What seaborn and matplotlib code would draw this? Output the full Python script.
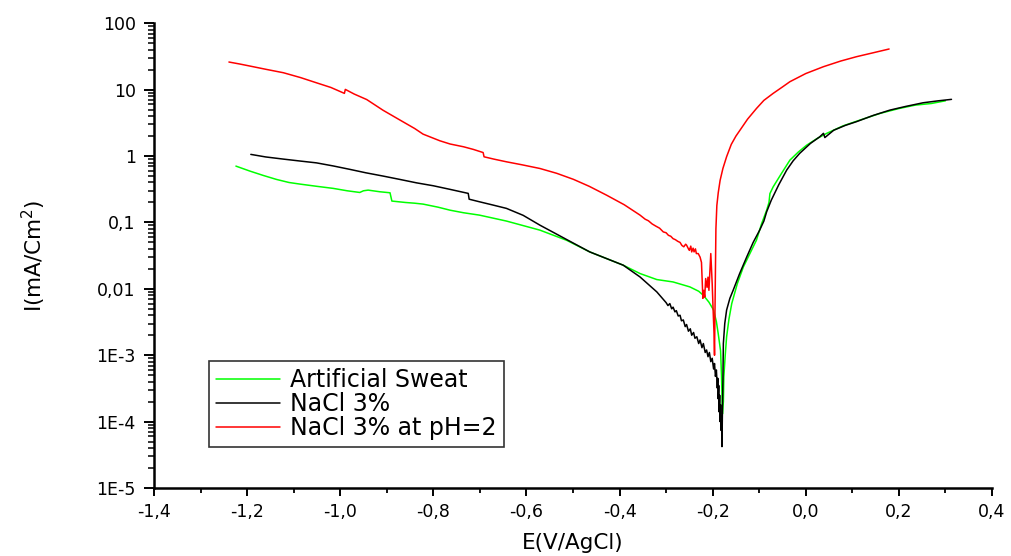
import numpy as np
import pandas as pd
import matplotlib
matplotlib.use("Agg")
import matplotlib.pyplot as plt
import seaborn as sns
from matplotlib.ticker import FixedLocator, FixedFormatter, LogLocator, NullFormatter, MultipleLocator

# ---------------- data ----------------
sweat_E = [-1.224, -1.194, -1.165, -1.137, -1.110, -1.086, -1.050, -1.015, -0.985, -0.958,
           -0.950, -0.940, -0.915, -0.893, -0.889, -0.860, -0.840, -0.822, -0.790, -0.764,
           -0.735, -0.701, -0.643, -0.571, -0.514, -0.464, -0.392, -0.356, -0.320, -0.285,
           -0.249, -0.230, -0.220, -0.208, -0.198, -0.192, -0.188, -0.183, -0.181, -0.179,
           -0.177, -0.176, -0.173, -0.170, -0.165, -0.159, -0.147, -0.134, -0.120, -0.106,
           -0.095, -0.084, -0.079, -0.077, -0.070, -0.052, -0.034, -0.016, 0.002, 0.025,
           0.045, 0.080, 0.120, 0.160, 0.200, 0.235, 0.270, 0.300]
sweat_I = [0.706, 0.594, 0.51, 0.445, 0.40, 0.378, 0.35, 0.326, 0.30, 0.283,
           0.30, 0.307, 0.29, 0.28, 0.21, 0.20, 0.195, 0.189, 0.17, 0.153,
           0.14, 0.129, 0.105, 0.0766, 0.054, 0.036, 0.0227, 0.017, 0.0138, 0.0127,
           0.0107, 0.0092, 0.008, 0.0063, 0.0048, 0.0032, 0.0021, 0.00117, 0.0005, 0.00013,
           0.0002, 0.00047, 0.001, 0.0019, 0.0035, 0.006, 0.012, 0.0214, 0.034, 0.054,
           0.095, 0.153, 0.20, 0.272, 0.344, 0.55, 0.87, 1.15, 1.46, 1.85,
           2.2, 2.85, 3.55, 4.4, 5.2, 5.85, 6.2, 6.8]

nacl_E = [-1.192, -1.160, -1.122, -1.085, -1.051, -1.015, -0.979, -0.945, -0.908, -0.872,
          -0.836, -0.800, -0.764, -0.725, -0.723, -0.701, -0.672, -0.643, -0.607, -0.571,
          -0.514, -0.464, -0.392, -0.356, -0.320,
          -0.300, -0.296, -0.292, -0.288, -0.285, -0.281, -0.278, -0.274, -0.270, -0.267,
          -0.263, -0.259, -0.256, -0.252, -0.248, -0.245, -0.241, -0.238, -0.234, -0.230,
          -0.227, -0.223, -0.220, -0.216, -0.213, -0.210, -0.207, -0.204, -0.201, -0.198,
          -0.196, -0.194, -0.192, -0.190, -0.189, -0.188, -0.187, -0.186, -0.185, -0.184,
          -0.183, -0.182, -0.181, -0.180,
          -0.179, -0.178, -0.177, -0.174, -0.170, -0.163, -0.156, -0.142, -0.127,
          -0.113, -0.099, -0.090, -0.084, -0.074, -0.058, -0.041, -0.027, -0.013, 0.010,
          0.030, 0.038, 0.041, 0.060, 0.085, 0.109, 0.145, 0.181, 0.215, 0.252,
          0.285, 0.313]
nacl_I = [1.06, 0.97, 0.90, 0.84, 0.79, 0.71, 0.63, 0.56, 0.50, 0.445,
          0.395, 0.357, 0.315, 0.274, 0.224, 0.205, 0.183, 0.163, 0.128, 0.091,
          0.0555, 0.036, 0.0227, 0.0151, 0.009,
          0.0062, 0.0056, 0.0060, 0.0050, 0.0053, 0.0045, 0.0047, 0.0039, 0.0040, 0.0033,
          0.0034, 0.0027, 0.0029, 0.0023, 0.0025, 0.0020, 0.0022, 0.0018, 0.0019, 0.0015,
          0.0017, 0.0013, 0.0015, 0.0011, 0.0012, 0.00095, 0.0011, 0.0008, 0.0009, 0.00062,
          0.00075, 0.00048, 0.0006, 0.00032, 0.00045, 0.00022, 0.00035, 0.00014, 0.00025, 0.0001,
          0.00018, 0.000074, 0.00012, 0.000042,
          0.00015, 0.0004, 0.0015, 0.003, 0.0048, 0.0072, 0.0095, 0.017, 0.030,
          0.050, 0.0766, 0.105, 0.145, 0.217, 0.37, 0.615, 0.85, 1.1, 1.55,
          1.95, 2.2, 1.9, 2.45, 2.9, 3.3, 4.1, 4.93, 5.6, 6.35,
          6.8, 7.15]

acid_E = [-1.239, -1.215, -1.194, -1.160, -1.122, -1.085, -1.051, -1.020, -0.991, -0.989,
          -0.970, -0.943, -0.908, -0.872, -0.840, -0.822, -0.786, -0.764, -0.735, -0.714,
          -0.693, -0.691, -0.670, -0.643, -0.610, -0.571, -0.535, -0.499, -0.465, -0.428,
          -0.390, -0.356, -0.345, -0.338, -0.330, -0.322, -0.314, -0.306, -0.300, -0.295,
          -0.290, -0.285, -0.280, -0.275, -0.270, -0.266, -0.262, -0.258, -0.256, -0.252,
          -0.250, -0.247, -0.245, -0.242, -0.240, -0.237, -0.235, -0.231,
          -0.227, -0.224, -0.221, -0.219, -0.217, -0.215,
          -0.212, -0.210, -0.208, -0.204, -0.201, -0.199, -0.197, -0.196, -0.195, -0.194,
          -0.193, -0.191, -0.188, -0.184, -0.178, -0.170, -0.160, -0.150, -0.141, -0.125,
          -0.106, -0.090, -0.070, -0.050, -0.034, 0.000, 0.038, 0.075, 0.109, 0.145,
          0.179]
acid_I = [26.1, 24.3, 22.7, 20.3, 18.0, 15.2, 12.7, 10.8, 8.8, 10.1,
          8.6, 7.1, 4.9, 3.5, 2.6, 2.14, 1.7, 1.52, 1.38, 1.26,
          1.13, 0.975, 0.90, 0.82, 0.74, 0.65, 0.55, 0.446, 0.35, 0.258,
          0.185, 0.129, 0.112, 0.106, 0.095, 0.088, 0.082, 0.072, 0.070, 0.064,
          0.062, 0.057, 0.055, 0.052, 0.050, 0.045, 0.043, 0.047, 0.0455, 0.040,
          0.038, 0.044, 0.036, 0.041, 0.036, 0.040, 0.034, 0.034,
          0.030, 0.025, 0.0072, 0.0095, 0.0075, 0.0143,
          0.0105, 0.0150, 0.0095, 0.034, 0.012, 0.0048, 0.0021, 0.0010, 0.0045, 0.020,
          0.080, 0.18, 0.28, 0.43, 0.65, 0.98, 1.5, 2.0, 2.47, 3.6,
          5.2, 6.9, 8.8, 11.0, 13.2, 17.5, 22.2, 27.0, 31.4, 36.0,
          41.0]

series_labels = ["Artificial Sweat", "NaCl 3%", "NaCl 3% at pH=2"]
series_colors = ["#00FF00", "#000000", "#FF0000"]

y_tick_values = [1e-5, 1e-4, 1e-3, 1e-2, 1e-1, 1, 10, 100]
y_tick_labels = ["1E-5", "1E-4", "1E-3", "0,01", "0,1", "1", "10", "100"]
x_tick_values = [-1.4, -1.2, -1.0, -0.8, -0.6, -0.4, -0.2, 0.0, 0.2, 0.4]
x_tick_labels = ["-1,4", "-1,2", "-1,0", "-0,8", "-0,6", "-0,4", "-0,2", "0,0", "0,2", "0,4"]

# ---------------- plotting ----------------
sns.set_style("ticks")
plt.rcParams["font.family"] = ["DejaVu Sans"]
plt.rcParams["mathtext.fontset"] = "dejavusans"
plt.rcParams["text.color"] = "black"
plt.rcParams["axes.labelcolor"] = "black"

fig = plt.figure(figsize=(10.11, 5.56), dpi=100)
ax = fig.add_axes([0.1523, 0.1223, 0.8289, 0.8358])

datasets = [(sweat_E, sweat_I), (nacl_E, nacl_I), (acid_E, acid_I)]
for (E, I), lab, col in zip(datasets, series_labels, series_colors):
    df = pd.DataFrame({"E": E, "I": I})
    sns.lineplot(data=df, x="E", y="I", ax=ax, color=col, linewidth=1.1,
                 estimator=None, sort=False, label=lab)

ax.set_yscale("log")
ax.set_xlim(-1.4, 0.4)
ax.set_ylim(1e-5, 100)

ax.yaxis.set_major_locator(FixedLocator(y_tick_values))
ax.yaxis.set_major_formatter(FixedFormatter(y_tick_labels))
ax.yaxis.set_minor_locator(LogLocator(base=10, subs=np.arange(2, 10), numticks=20))
ax.yaxis.set_minor_formatter(NullFormatter())
ax.xaxis.set_major_locator(FixedLocator(x_tick_values))
ax.xaxis.set_major_formatter(FixedFormatter(x_tick_labels))
ax.xaxis.set_minor_locator(MultipleLocator(0.1))

for s in ["top", "right"]:
    ax.spines[s].set_visible(False)
for s in ["left", "bottom"]:
    ax.spines[s].set_linewidth(1.8)
    ax.spines[s].set_color("black")

ax.tick_params(axis="y", which="major", direction="out", length=7.2, width=1.4,
               labelsize=12.5, colors="black", pad=6)
ax.tick_params(axis="y", which="minor", direction="out", length=4.3, width=1.1, colors="black")
ax.tick_params(axis="x", which="major", direction="out", length=5.5, width=1.4,
               labelsize=12.5, colors="black", pad=5)
ax.tick_params(axis="x", which="minor", direction="out", length=3.5, width=1.3, colors="black")

ax.set_xlabel("E(V/AgCl)", fontsize=15.5, color="black")
ax.set_ylabel("I(mA/Cm$^2$)", fontsize=15.5, color="black")
ax.xaxis.set_label_coords(0.5, -0.097)
ax.yaxis.set_label_coords(-0.126, 0.5)

leg = ax.legend(loc="upper left", bbox_to_anchor=(0.066, 0.273), borderaxespad=0,
                fontsize=17, frameon=True, fancybox=False, edgecolor="black",
                handlelength=2.7, handletextpad=0.42, labelspacing=0.0, borderpad=0.3)
leg.get_frame().set_linewidth(1.2)
for t in leg.get_texts():
    t.set_color("black")
for h in leg.get_lines():
    h.set_linewidth(1.1)

fig.savefig("out.png", dpi=100)
